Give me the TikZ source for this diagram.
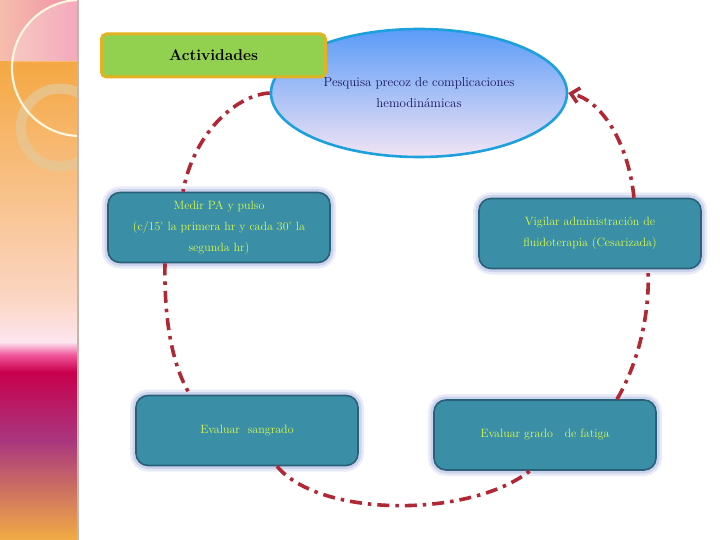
\documentclass[tikz,border=0pt]{standalone}
\usepackage{xcolor}
\usepackage{tikz}
\usetikzlibrary{arrows.meta,calc,positioning,shapes.geometric}

\definecolor{tealbox}{RGB}{58,142,166}
\definecolor{tealedge}{RGB}{42,96,122}
\definecolor{glowc}{RGB}{170,182,224}
\definecolor{txtgreen}{RGB}{218,252,74}
\definecolor{actgreen}{RGB}{146,208,80}
\definecolor{actgold}{RGB}{226,178,34}
\definecolor{ellblue}{RGB}{90,155,248}
\definecolor{ellpink}{RGB}{242,228,244}
\definecolor{elledge}{RGB}{30,160,220}
\definecolor{navytxt}{RGB}{24,24,90}
\definecolor{arcred}{RGB}{176,40,52}
\definecolor{stripline}{RGB}{200,180,168}
\definecolor{ringc}{RGB}{230,200,150}
\definecolor{creamc}{RGB}{255,246,222}

\tikzset{
  tarea/.style={rectangle,rounded corners=12pt,draw=tealedge,line width=1.6pt,fill=tealbox,
    preaction={draw=glowc,line width=12pt,opacity=.25},
    preaction={draw=glowc,line width=7pt,opacity=.45},
    minimum width=222pt,minimum height=70pt,text=txtgreen,align=center,
    font=\fontsize{12}{21}\selectfont},
  ciclo/.style={draw=arcred,line width=3.6pt,dash pattern=on 12pt off 6pt on 3.5pt off 6pt}
}

\begin{document}
\begin{tikzpicture}[x=1pt,y=1pt]
\useasboundingbox (0,0) rectangle (720,-540);
\fill[white] (0,0) rectangle (720,-540);
% franja lateral
\shade[left color={rgb,255:red,246;green,190;blue,172},right color={rgb,255:red,240;green,140;blue,168}] (0,0) rectangle (78,-62);
\shade[top color={rgb,255:red,245;green,168;blue,67},bottom color={rgb,255:red,251;green,214;blue,196}] (0,-62) rectangle (78,-300);
\shade[top color={rgb,255:red,251;green,214;blue,196},bottom color={rgb,255:red,253;green,230;blue,239}] (0,-300) rectangle (78,-342);
\shade[top color={rgb,255:red,253;green,230;blue,239},bottom color={rgb,255:red,240;green,85;blue,154}] (0,-342) rectangle (78,-355);
\shade[top color={rgb,255:red,240;green,85;blue,154},bottom color={rgb,255:red,200;green,0;blue,76}] (0,-355) rectangle (78,-372);
\shade[top color={rgb,255:red,200;green,0;blue,76},bottom color={rgb,255:red,169;green,54;blue,127}] (0,-372) rectangle (78,-440);
\shade[top color={rgb,255:red,169;green,54;blue,127},bottom color={rgb,255:red,242;green,172;blue,68}] (0,-440) rectangle (78,-540);
\begin{scope}
  \clip (0,0) rectangle (78,-540);
  \begin{scope}
    \clip (0,0) rectangle (78,-62);
    \fill[white,opacity=.25] (80,-68) circle (68);
  \end{scope}
  \draw[ringc,opacity=.75,line width=10pt] (60,-127.5) circle (39);
  \draw[creamc,line width=2.2pt] (80,-68) circle (68);
\end{scope}
\draw[stripline,line width=2pt] (78,0) -- (78,-540);

% nodos
\node[ellipse,draw=elledge,line width=2.6pt,top color=ellblue,bottom color=ellpink,
  minimum width=296pt,minimum height=128pt,text=navytxt,align=center,
  font=\fontsize{13}{21}\selectfont] (pesq) at (419,-93) {Pesquisa precoz de complicaciones\\hemodin\'amicas};
\node[rectangle,rounded corners=5pt,draw=actgold,line width=3pt,fill=actgreen,
  minimum width=224pt,minimum height=43pt,font=\fontsize{15.5}{17}\selectfont\bfseries] (act) at (213.5,-55.5) {Actividades};
\node[tarea] (medir) at (219,-227.5) {Medir PA y pulso\\(c/15\textquotesingle{} la primera hr y cada 30\textquotesingle{} la\\segunda hr)};
\node[tarea] (vig) at (590,-233.5) {Vigilar administraci\'on de\\fluidoterapia (Cesarizada)};
\node[tarea] (sang) at (247,-430.5) {Evaluar\ \ sangrado};
\node[tarea] (fat) at (545,-435) {Evaluar grado\ \ \ de fatiga};

% ciclo
\draw[ciclo] (pesq.west) .. controls (235,-95) and (193,-135) .. ([xshift=-36pt]medir.north);
\draw[ciclo] ([xshift=-54pt]medir.south) .. controls (164,-320) and (172,-365) .. ([xshift=-57pt]sang.north);
\draw[ciclo] ([xshift=30pt]sang.south) .. controls (320,-518) and (470,-518) .. ([xshift=-15pt]fat.south);
\draw[ciclo] ([xshift=72pt]fat.north) .. controls (640,-360) and (650,-310) .. ([xshift=58pt]vig.south);
\draw[ciclo,-{Straight Barb[length=8pt,width=15pt]}] ([xshift=44pt]vig.north) .. controls (628,-140) and (600,-100) .. (pesq.east);
\end{tikzpicture}
\end{document}
